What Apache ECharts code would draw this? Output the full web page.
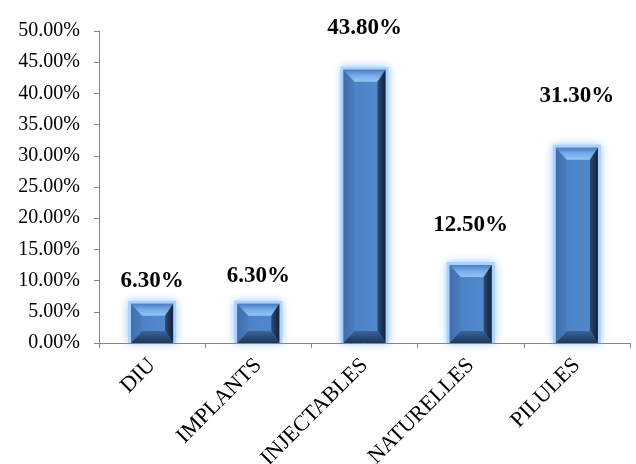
<!DOCTYPE html>
<html><head><meta charset="utf-8">
<script src="https://cdn.jsdelivr.net/npm/echarts@6/dist/echarts.min.js"></script>
<style>html,body{margin:0;padding:0;background:#fff}#c{width:636px;height:464px}</style>
</head><body><div id="c"></div>
<script>
const categories = ['DIU', 'IMPLANTS', 'INJECTABLES', 'NATURELLES', 'PILULES'];
const values = [6.3, 6.3, 43.8, 12.5, 31.3];
const yMin = 0, yMax = 50, yStep = 5;

// layout-only: how far each value label sits above its bar (px)
const labelLift = [23, 28, 42, 40, 52];

const FONT = '"Liberation Serif", "Times New Roman", serif';
const G = echarts.graphic;

function renderItem(params, api) {
  const i = api.value(0), v = api.value(1);
  const top = api.coord([i, v]);
  const bot = api.coord([i, 0]);
  const w = 42;
  const x0 = top[0] - w / 2, x1 = top[0] + w / 2, y0 = top[1], y1 = bot[1];
  const h = y1 - y0;
  const bt = Math.min(12, h / 2);   // top / bottom bevel depth
  const bl = 11, br = 8;             // left / right bevel width
  const g = 3;
  return {
    type: 'group',
    children: [
      { type: 'rect', shape: { x: x0 - g, y: y0 - g, width: w + 2 * g, height: h + g },
        style: { fill: 'rgba(170,208,250,0.9)', shadowBlur: 8, shadowColor: 'rgba(140,190,245,1)' } },
      { type: 'rect', shape: { x: x0, y: y0, width: w, height: h },
        style: { fill: '#4f83c4' } },
      { type: 'rect', shape: { x: x0 + bl, y: y0 + bt, width: w - bl - br, height: Math.max(0, h - 2 * bt) },
        style: { fill: new G.LinearGradient(0, 0, 1, 0, [{ offset: 0, color: '#4d82c6' }, { offset: 1, color: '#5189cc' }]) } },
      { type: 'polygon', shape: { points: [[x0, y0], [x0 + bl, y0 + bt], [x0 + bl, y1 - bt], [x0, y1]] },
        style: { fill: new G.LinearGradient(0, 0, 1, 0, [{ offset: 0, color: '#3f6dac' }, { offset: 1, color: '#4a7ec0' }]) } },
      { type: 'polygon', shape: { points: [[x0, y0], [x1, y0], [x1 - br, y0 + bt], [x0 + bl, y0 + bt]] },
        style: { fill: new G.LinearGradient(0, 0, 0, 1, [{ offset: 0, color: '#4a7cbe' }, { offset: 0.45, color: '#72a8e6' }, { offset: 1, color: '#92c6f7' }]) } },
      { type: 'polygon', shape: { points: [[x1, y0], [x1, y1], [x1 - br, y1 - bt], [x1 - br, y0 + bt]] },
        style: { fill: new G.LinearGradient(0, 0, 1, 0, [{ offset: 0, color: '#2b4a78' }, { offset: 1, color: '#13223a' }]) } },
      { type: 'polygon', shape: { points: [[x0, y1], [x1, y1], [x1 - br, y1 - bt], [x0 + bl, y1 - bt]] },
        style: { fill: new G.LinearGradient(0, 0, 0, 1, [{ offset: 0, color: '#38639e' }, { offset: 1, color: '#1d3558' }]) } },
      { type: 'text',
        style: { text: v.toFixed(2) + '%', x: top[0], y: y0 - labelLift[params.dataIndex],
                 textAlign: 'center', textVerticalAlign: 'middle',
                 font: 'bold 23px "Liberation Serif", "Times New Roman", serif', fill: '#000' } }
    ]
  };
}

const chart = echarts.init(document.getElementById('c'), null, { renderer: 'canvas' });
chart.setOption({
  animation: false,
  backgroundColor: '#fff',
  grid: { left: 99, right: 6, top: 31, bottom: 121, containLabel: false, outerBoundsMode: 'none' },
  xAxis: {
    type: 'category',
    data: categories,
    z: 5,
    axisLine: { lineStyle: { color: '#868686', width: 1 } },
    axisTick: { show: true, length: 5, lineStyle: { color: '#868686' } },
    axisLabel: { interval: 0, rotate: 45, margin: 19, color: '#000', fontSize: 22, fontFamily: FONT }
  },
  yAxis: {
    type: 'value',
    min: yMin, max: yMax, interval: yStep,
    axisLine: { show: true, lineStyle: { color: '#868686', width: 1 } },
    axisTick: { show: true, length: 5, lineStyle: { color: '#868686' } },
    splitLine: { show: false },
    axisLabel: { margin: 19, color: '#000', fontSize: 20, fontFamily: FONT,
                 formatter: v => v.toFixed(2) + '%' }
  },
  series: [{
    type: 'custom',
    renderItem: renderItem,
    encode: { x: 0, y: 1 },
    data: categories.map((c, i) => [i, values[i]]),
    z: 1
  }]
});
</script>
</body></html>
